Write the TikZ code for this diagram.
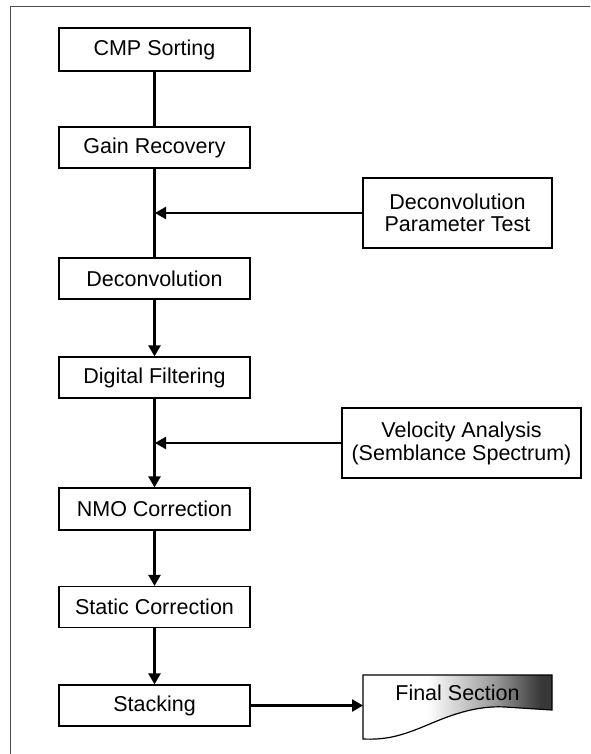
\documentclass[tikz,border=0pt]{standalone}
\usepackage{fontspec}
\setmainfont{Liberation Sans}
\usetikzlibrary{arrows.meta}
\pgfdeclarehorizontalshading{finalshade}{100bp}{color(0bp)=(white); color(25bp)=(white); color(42bp)=(white); color(60bp)=(black!40); color(72bp)=(black!78); color(100bp)=(black!78)}
\begin{document}
\begin{tikzpicture}[x=1pt,y=-1pt,
  box/.style={draw=black, line width=1.2pt, fill=white, minimum width=191pt, minimum height=41pt, inner sep=0pt, font=\fontsize{21.5}{21.5}\selectfont, align=center},
  sidebox/.style={box, minimum width=189pt, minimum height=70pt},
  conn/.style={line width=2.4pt},
  arr/.style={conn, -{Triangle[length=11pt,width=12pt]}}]
\useasboundingbox (0,0) rectangle (590,754);
% frame
\draw[black!70, line width=0.9pt] (10,754) -- (10,6) -- (590,6);
% main column
\node[box, minimum height=43pt] (cmp) at (154.5,49.5) {CMP Sorting};
\node[box] (gain) at (154.5,147.5) {Gain Recovery};
\node[box] (dec) at (154.5,278.5) {Deconvolution};
\node[box] (df) at (154.5,377.5) {Digital Filtering};
\node[box, minimum height=42pt] (nmo) at (154.5,509) {NMO Correction};
\node[box] (stat) at (154.5,607) {Static Correction};
\node[box] (stk) at (154.5,705.5) {Stacking};
% side boxes
\node[sidebox] (dpt) at (457.5,213) {Deconvolution\\Parameter Test};
\node[sidebox, minimum width=239pt, font=\fontsize{21.5}{23}\selectfont] (vel) at (461.5,443) {Velocity Analysis\\(Semblance Spectrum)};
% final section
\coordinate (fsl) at (363,705.5);
\shade[shading=finalshade, draw=black, line width=1.2pt]
  (363,675) -- (552,675) -- (552,710) -- (505,707)
  .. controls (470,705) and (440,720) .. (420,728)
  .. controls (400,736) and (385,740) .. (363,739) -- cycle;
\node[font=\fontsize{21.5}{21.5}\selectfont] (fs) at (457.5,693) {Final Section};
% connectors
\coordinate (j1) at (gain.south |- dpt.west);
\coordinate (j2) at (df.south |- vel.west);
\draw[conn] (cmp) -- (gain);
\draw[conn] (gain) -- (dec);
\draw[arr, shorten >=0.5pt] (dpt.west) -- (j1);
\draw[arr] (dec) -- (df);
\draw[arr] (df) -- (nmo);
\draw[arr, shorten >=0.5pt] (vel.west) -- (j2);
\draw[arr] (nmo) -- (stat);
\draw[arr] (stat) -- (stk);
\draw[arr] (stk.east) -- (fsl);
\end{tikzpicture}
\end{document}
